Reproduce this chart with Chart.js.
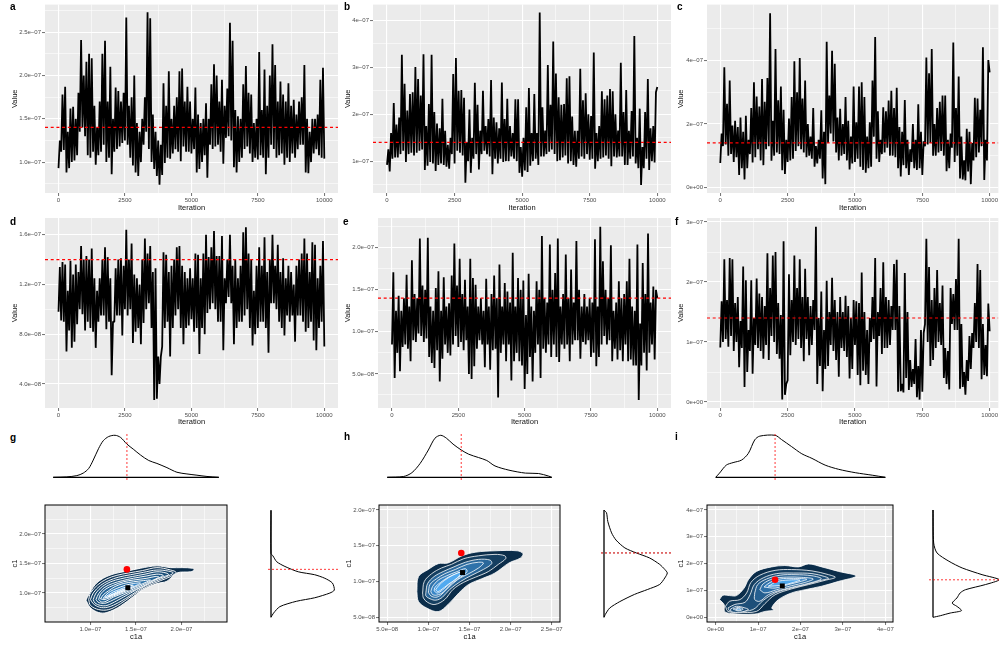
<!DOCTYPE html>
<html>
<head>
<meta charset="utf-8">
<script src="https://cdn.jsdelivr.net/npm/chart.js@4/dist/chart.umd.js"></script>
<style>
  html, body { margin: 0; padding: 0; background: #fff; overflow: hidden; }
  body { width: 999px; height: 645px; position: relative; font-family: "Liberation Sans", sans-serif; }
  canvas { position: absolute; }
  .tag { position: absolute; font-size: 10px; font-weight: bold; color: #000; line-height: 10px; }
</style>
</head>
<body>
<script>
// every value below is in units of 1e-9, the axes label them in e-07 / e-08 form
const trueValue = 140;
const traceStep = 50;

const traceA = [
  93,125, 112,178, 114,187, 88,135, 93,162, 100,164, 102,150, 108,180, 135,241, 140,200,
  130,216, 108,225, 105,220, 112,165, 97,140, 108,170, 112,225, 120,240, 100,170, 105,210,
  86,150, 112,186, 115,182, 118,170, 122,180, 125,267, 120,165, 105,175, 96,200, 88,145,
  84,135, 100,150, 120,175, 135,273, 115,266, 100,155, 92,135, 84,125, 74,120, 85,191,
  99,165, 105,205, 104,150, 110,165, 115,175, 112,205, 101,208, 118,170, 112,187, 112,170,
  110,150, 115,186, 88,155, 92,145, 100,150, 108,168, 82,150, 120,190, 115,213, 118,200,
  120,170, 112,195, 98,165, 128,185, 130,261, 125,240, 94,160, 88,153, 100,150, 105,190,
  115,211, 118,180, 110,178, 100,145, 105,150, 103,227, 108,160, 105,207, 86,165, 105,200,
  120,236, 115,212, 105,170, 108,193, 110,178, 97,170, 105,191, 100,165, 110,172, 105,155,
  115,170, 120,175, 120,212, 88,150, 87,135, 100,150, 110,150, 115,155, 108,195, 105,209, 104
];
const traceB = [
  92,125, 78,160, 105,224, 108,178, 108,193, 115,327, 122,265, 98,208, 115,243, 118,247,
  112,301, 118,275, 122,240, 125,328, 81,175, 90,222, 98,327, 95,205, 79,180, 92,170,
  95,233, 92,165, 88,135, 84,150, 115,286, 95,320, 122,250, 118,252, 112,235, 54,140,
  100,210, 75,150, 105,267, 115,220, 82,165, 115,250, 122,175, 115,190, 110,273, 72,193,
  105,183, 95,170, 105,268, 98,190, 100,233, 100,175, 110,160, 105,232, 100,232, 75,130,
  67,150, 80,215, 77,256, 90,160, 100,243, 105,160, 92,417, 110,215, 110,165, 115,305,
  120,220, 125,355, 115,287, 100,236, 102,220, 108,222, 112,277, 95,281, 100,195, 92,165,
  88,165, 105,297, 110,230, 105,245, 115,200, 103,196, 105,332, 84,160, 100,175, 105,249,
  108,232, 112,240, 105,254, 89,249, 110,200, 108,165, 110,310, 110,205, 92,252, 92,165,
  105,207, 110,367, 95,150, 85,212, 49,130, 85,205, 105,275, 81,170, 100,175, 97,247, 258
];
const traceC = [
  77,170, 130,379, 135,264, 100,337, 105,195, 80,210, 95,190, 39,220, 60,175, 25,226,
  60,150, 105,250, 78,332, 95,287, 120,255, 85,342, 70,270, 120,345, 130,550, 84,210,
  100,437, 110,275, 105,318, 54,245, 42,150, 80,217, 85,285, 90,398, 115,300, 130,408,
  120,280, 110,337, 95,200, 100,160, 90,250, 65,130, 75,150, 90,243, 28,175, 10,460,
  140,290, 170,431, 145,390, 110,220, 85,248, 100,200, 105,285, 85,210, 56,160, 75,318,
  80,205, 90,318, 65,332, 55,285, 46,160, 60,205, 65,337, 160,475, 90,240, 80,150,
  105,253, 110,240, 125,274, 100,305, 100,250, 95,314, 60,190, 34,175, 70,276, 60,150,
  39,120, 80,200, 60,150, 55,262, 60,175, 39,145, 130,410, 135,360, 140,437, 100,200,
  100,250, 110,270, 115,290, 100,290, 51,150, 60,170, 125,457, 80,250, 100,350, 28,160,
  25,85, 22,185, 50,175, 10,140, 85,283, 95,280, 110,245, 130,442, 23,150, 85,402, 363
];
const traceD = [
  98,134, 91,138, 90,136, 66,115, 83,139, 69,128, 74,136, 88,130, 100,151, 96,140,
  83,143, 90,140, 85,149, 82,125, 69,115, 90,125, 95,140, 95,150, 84,142, 90,125,
  47,90, 90,133, 95,140, 95,141, 79,135, 100,164, 95,140, 100,153, 73,128, 82,125,
  85,120, 72,140, 89,157, 100,145, 105,151, 85,130, 27,133, 28,62, 40,62, 70,146,
  85,144, 90,130, 62,135, 85,140, 95,150, 100,151, 85,135, 72,130, 85,125, 87,133,
  92,125, 82,145, 85,144, 64,125, 85,145, 80,160, 97,142, 100,150, 105,163, 100,143,
  90,143, 90,159, 67,125, 105,140, 110,160, 105,135, 72,140, 85,125, 90,135, 90,162,
  95,166, 100,145, 85,140, 71,115, 80,135, 85,150, 90,135, 90,158, 85,130, 65,140,
  105,160, 105,135, 100,152, 90,130, 85,141, 79,125, 95,135, 90,130, 95,120, 74,135,
  95,140, 95,145, 90,157, 82,145, 85,130, 90,154, 75,152, 67,125, 85,135, 90,155, 70
];
const traceE = [
  85,171, 45,125, 75,143, 53,125, 82,140, 85,168, 80,130, 65,185, 90,145, 88,140,
  98,211, 95,155, 88,150, 92,212, 70,130, 63,125, 57,152, 78,172, 41,125, 68,165,
  85,130, 75,134, 72,167, 85,205, 95,155, 82,187, 88,145, 78,162, 90,130, 50,187,
  44,164, 59,156, 80,130, 90,140, 85,125, 58,163, 85,130, 55,145, 78,167, 80,140,
  22,180, 75,130, 85,158, 65,148, 85,135, 42,194, 65,130, 75,164, 65,150, 60,161,
  32,120, 50,169, 70,130, 41,125, 75,160, 85,150, 45,214, 80,140, 75,135, 85,204,
  70,150, 85,170, 70,211, 64,130, 85,145, 80,192, 85,140, 65,174, 85,135, 90,208,
  90,150, 68,130, 88,145, 85,130, 90,140, 70,135, 75,210, 59,130, 70,225, 85,184,
  95,150, 85,140, 90,203, 65,125, 80,135, 67,160, 78,140, 65,145, 85,160, 65,187,
  67,130, 60,125, 60,204, 19,110, 60,182, 75,145, 54,217, 75,135, 85,154, 67,150, 140
];
const traceF = [
  91,168, 100,238, 105,170, 92,240, 110,238, 85,165, 100,175, 58,135, 90,226, 25,203,
  50,120, 85,203, 47,140, 95,206, 90,181, 85,175, 72,160, 95,248, 70,190, 110,244,
  100,250, 80,165, 72,145, 4,268, 12,30, 36,213, 78,170, 100,244, 95,190, 105,238,
  90,175, 68,222, 105,175, 78,160, 95,170, 120,292, 30,140, 60,184, 18,120, 55,202,
  60,150, 95,207, 85,170, 70,150, 42,175, 90,150, 85,177, 75,160, 39,140, 55,170,
  95,168, 45,165, 28,216, 52,150, 45,120, 30,140, 100,175, 105,240, 26,150, 110,190,
  80,233, 90,175, 90,170, 95,160, 120,230, 120,237, 17,160, 18,30, 16,215, 40,150,
  20,70, 25,55, 30,105, 8,60, 4,120, 17,115, 130,272, 100,225, 60,170, 70,190,
  90,220, 100,165, 95,194, 40,90, 30,85, 21,190, 130,180, 120,205, 120,272, 22,130,
  25,50, 12,70, 35,110, 55,115, 90,165, 100,230, 90,220, 38,130, 45,95, 43,164, 118
];

// axis ticks
const iterTicks = [0, 2500, 5000, 7500, 10000];
const iterLabels = ['0', '2500', '5000', '7500', '10000'];
const iterMinor = [1250, 3750, 6250, 8750];

const aTicks = [100, 150, 200, 250];
const aLabels = ['1.0e\u221207', '1.5e\u221207', '2.0e\u221207', '2.5e\u221207'];
const aMinor = [75, 125, 175, 225, 275];
const bTicks = [100, 200, 300, 400];
const bLabels = ['1e\u221207', '2e\u221207', '3e\u221207', '4e\u221207'];
const bMinor = [50, 150, 250, 350];
const cTicks = [0, 200, 400];
const cLabels = ['0e+00', '2e\u221207', '4e\u221207'];
const cMinor = [100, 300, 500];
const dTicks = [40, 80, 120, 160];
const dLabels = ['4.0e\u221208', '8.0e\u221208', '1.2e\u221207', '1.6e\u221207'];
const dMinor = [60, 100, 140];
const eTicks = [50, 100, 150, 200];
const eLabels = ['5.0e\u221208', '1.0e\u221207', '1.5e\u221207', '2.0e\u221207'];
const eMinor = [25, 75, 125, 175, 225];
const fTicks = [0, 100, 200, 300];
const fLabels = ['0e+00', '1e\u221207', '2e\u221207', '3e\u221207'];
const fMinor = [50, 150, 250];

const gTicks = [100, 150, 200];
const gLabels = ['1.0e\u221207', '1.5e\u221207', '2.0e\u221207'];
const gMinor = [75, 125, 175, 225];
const hTicks = [50, 100, 150, 200, 250];
const hLabels = ['5.0e\u221208', '1.0e\u221207', '1.5e\u221207', '2.0e\u221207', '2.5e\u221207'];
const hMinor = [75, 125, 175, 225];
const iTicks = [0, 100, 200, 300, 400];
const iLabels = ['0e+00', '1e\u221207', '2e\u221207', '3e\u221207', '4e\u221207'];
const iMinor = [50, 150, 250, 350];

// marginal densities, height relative to the peak
const gTopX = [59, 74, 85, 92, 98, 103, 109, 114, 120, 127, 133, 140, 147, 155, 164, 173, 184, 195, 206, 217, 228, 241];
const gTopY = [0, .01, .04, .10, .21, .41, .69, .87, .97, 1, .95, .79, .67, .53, .40, .33, .23, .12, .08, .05, .02, 0];
const gSideY = [240, 167, 163, 153, 145, 136, 131, 125, 117, 105, 100, 92, 86, 77, 66, 59];
const gSideX = [0, 0, .03, .09, .22, .43, .69, .85, .97, 1, .93, .69, .40, .14, .04, 0];

const hTopX = [50, 70, 80, 90, 100, 108, 115, 122, 130, 140, 149, 161, 171, 181, 198, 218, 234, 246, 250];
const hTopY = [0, .02, .11, .33, .65, .93, 1, .93, .79, .65, .55, .47, .40, .27, .17, .10, .09, .03, 0];
const hSideY = [200, 196, 184, 168, 158, 147, 140, 133, 124, 117, 112, 105, 96, 89, 82, 72, 63, 54, 50];
const hSideX = [0, .04, .06, .12, .19, .33, .51, .72, .88, .96, 1, .96, .88, .69, .48, .25, .09, .02, 0];

const iTopX = [0, 9, 25, 41, 61, 77, 92, 104, 140, 155, 179, 203, 227, 258, 290, 329, 369, 400];
const iTopY = [0, .10, .29, .35, .41, .57, .89, .98, 1, .90, .73, .56, .45, .29, .19, .11, .05, 0];
const iSideY = [400, 277, 240, 209, 184, 159, 140, 122, 103, 91, 72, 53, 41, 25, 16, 6, 0];
const iSideX = [0, .01, .06, .24, .44, .74, 1, .79, .49, .41, .36, .29, .36, .43, .26, .11, 0];

// joint density contours as x,y pairs, outer level first
const contoursG = [
  [95,88, 98,97, 105,114, 114,125, 127,133, 140,137, 155,142, 173,146, 188,143, 201,143, 212,142, 214,139, 210,136, 195,134, 184,120, 173,116, 158,106, 147,94, 133,78, 118,67, 109,67, 100,75],
  [98,89, 100,100, 108,114, 118,124, 129,130, 142,134, 157,138, 173,143, 188,139, 194,135, 188,128, 177,121, 162,111, 147,97, 133,82, 120,72, 109,72, 100,79],
  [100,89, 103,100, 111,113, 120,121, 131,127, 144,131, 158,135, 173,139, 186,137, 191,134, 184,128, 173,121, 160,112, 146,98, 131,84, 119,76, 110,76, 103,82],
  [103,89, 106,100, 113,111, 122,119, 133,124, 146,128, 160,132, 173,136, 183,134, 186,131, 181,128, 169,121, 158,112, 144,100, 129,87, 118,79, 111,79, 105,83],
  [106,89, 109,99, 115,109, 124,116, 135,121, 147,125, 162,129, 173,132, 180,130, 177,127, 168,120, 157,111, 142,101, 127,90, 117,83, 111,83, 108,85],
  [109,89, 111,98, 117,107, 125,113, 136,119, 147,122, 162,125, 171,128, 175,127, 166,120, 155,112, 140,102, 125,93, 117,86, 112,85],
  [111,90, 114,97, 120,104, 127,111, 136,116, 147,119, 158,121, 166,122, 162,119, 153,113, 138,103, 125,95, 116,89],
  [114,91, 117,97, 122,103, 129,108, 138,113, 147,116, 155,117, 149,112, 137,104, 125,97, 117,92],
  [116,93, 120,97, 125,102, 132,106, 140,111, 147,113, 142,108, 133,102, 124,96, 119,93],
  [119,94, 125,99, 132,104, 138,107, 133,103, 125,98]
];
const contoursH = [
  [86,86, 88,107, 100,117, 112,125, 124,126, 141,136, 157,141, 181,143, 208,143, 215,139, 212,133, 198,126, 181,112, 165,104, 149,96, 137,84, 124,68, 112,58, 98,63, 88,72],
  [93,84, 95,100, 104,111, 116,119, 128,124, 143,132, 161,136, 181,138, 193,136, 194,132, 185,124, 173,114, 157,106, 143,99, 130,89, 120,75, 108,68, 99,71, 94,77],
  [97,85, 99,97, 107,107, 118,114, 130,120, 145,127, 161,131, 175,130, 177,125, 167,117, 153,109, 139,100, 126,89, 117,78, 109,74, 102,76, 97,80],
  [100,85, 102,96, 110,104, 120,111, 133,117, 147,124, 161,127, 167,126, 161,119, 149,111, 136,103, 124,91, 115,81, 109,78, 103,80],
  [103,86, 105,93, 112,102, 122,108, 135,114, 145,118, 147,114, 139,106, 128,97, 118,85, 110,81, 105,82],
  [107,87, 108,92, 115,99, 124,106, 136,112, 143,114, 139,108, 128,99, 117,88, 111,84],
  [109,89, 113,95, 120,102, 130,109, 140,113, 135,105, 124,96, 115,88, 111,86]
];
const contoursI = [
  [9,66, 17,82, 33,81, 49,81, 67,109, 77,140, 96,171, 132,188, 163,193, 195,188, 219,199, 250,188, 290,171, 331,154, 290,134, 250,116, 211,103, 179,91, 148,66, 132,35, 138,27, 116,22, 92,12, 37,14, 21,22, 20,47],
  [23,41, 33,60, 57,66, 73,91, 83,130, 104,157, 140,175, 179,178, 227,173, 266,159, 282,149, 258,138, 219,122, 179,106, 140,84, 116,51, 96,22, 53,19, 29,22],
  [29,35, 45,48, 69,56, 81,84, 91,122, 112,147, 144,163, 183,165, 227,163, 257,152, 266,145, 246,137, 211,122, 175,108, 140,91, 112,63, 88,29, 53,22, 33,24],
  [92,91, 99,122, 120,143, 152,157, 187,159, 227,155, 249,144, 227,130, 191,116, 152,101, 124,84, 104,60, 92,66],
  [35,31, 49,41, 69,35, 77,29, 57,19, 37,21],
  [104,103, 112,125, 136,144, 167,150, 203,149, 230,143, 211,130, 179,118, 144,103, 116,91],
  [41,31, 53,37, 65,31, 53,24],
  [114,113, 128,130, 152,143, 183,145, 215,142, 199,133, 171,122, 140,109],
  [47,30, 54,34, 59,30, 53,27],
  [124,116, 144,133, 171,139, 199,139, 183,130, 155,119]
];
const fillsG = ['#0b2d4a', '#12395c', '#164469', '#1b4f79', '#205a88', '#256597', '#2a70a6', '#3585c6', '#429ae0', '#56b1f7'];
const fillsH = ['#0b2d4a', '#153f61', '#2a679a', '#2f72aa', '#3a86c6', '#4497dc', '#52aaf0'];
const fillsI = ['#0b2d4a', '#153f61', '#1d4f79', '#255f90', '#1d4f79', '#2d70a8', '#2d70a8', '#3a86c6', '#429ae0', '#4fa6ea'];

// posterior mean (black square) for each joint panel
const meanG = [141, 109];
const meanH = [141.5, 112.6];
const meanI = [157, 117];

function toXY(xs, ys) {
  return xs.map((x, i) => ({ x: x, y: ys[i] }));
}

function ring(flat) {
  const pts = [];
  for (let i = 0; i < flat.length; i += 2) pts.push({ x: flat[i], y: flat[i + 1] });
  pts.push(pts[0]);
  return pts;
}

function putCanvas(left, top, right, bottom) {
  const c = document.createElement('canvas');
  c.width = right - left;
  c.height = bottom - top;
  c.style.left = left + 'px';
  c.style.top = top + 'px';
  document.body.appendChild(c);
  return c;
}

function ggAxis(title, major, labels, minor, min, max, fitFn) {
  return {
    type: 'linear',
    min: min,
    max: max,
    afterBuildTicks: s => {
      s.ticks = major.concat(minor).sort((p, q) => p - q).map(v => ({ value: v }));
    },
    afterFit: fitFn,
    border: { display: false },
    grid: {
      color: '#fff',
      lineWidth: ctx => (ctx.tick && ctx.tick.label !== '' ? 1.1 : 0.55),
      tickColor: ctx => (ctx.tick && ctx.tick.label !== '' ? '#333' : 'rgba(0,0,0,0)'),
      tickLength: 3,
      tickWidth: 0.7
    },
    ticks: {
      autoSkip: false,
      maxRotation: 0,
      minRotation: 0,
      padding: 1,
      color: '#4d4d4d',
      font: { family: 'Liberation Sans', size: 6 },
      callback: v => {
        const k = major.indexOf(v);
        return k >= 0 ? labels[k] : '';
      }
    },
    title: {
      display: true,
      text: title,
      color: '#111',
      padding: 0,
      font: { family: 'Liberation Sans', size: 7.5 }
    }
  };
}

const basePlugins = { legend: { display: false }, tooltip: { enabled: false } };

function panelPlugin(withBorder) {
  return {
    id: 'panel',
    beforeDraw(chart) {
      const a = chart.chartArea;
      chart.ctx.fillStyle = '#ebebeb';
      chart.ctx.fillRect(a.left, a.top, a.width, a.height);
    },
    afterDraw(chart) {
      if (!withBorder) return;
      const a = chart.chartArea;
      chart.ctx.strokeStyle = '#000';
      chart.ctx.lineWidth = 1;
      chart.ctx.strokeRect(a.left, a.top, a.width, a.height);
    }
  };
}

function panelChart(box, panel, xAxis, yAxis, datasets, withBorder) {
  const [left, top, right, bottom] = box;
  const [pl, pt, pr, pb] = panel;
  xAxis.afterFit = s => { s.height = bottom - pb; };
  yAxis.afterFit = s => { s.width = pl - left; };
  return new Chart(putCanvas(left, top, right, bottom), {
    type: 'line',
    data: { datasets: datasets },
    options: {
      responsive: false,
      animation: false,
      events: [],
      layout: { padding: { top: pt - top, right: right - pr, left: 0, bottom: 0 } },
      scales: { x: xAxis, y: yAxis },
      plugins: basePlugins
    },
    plugins: [panelPlugin(withBorder)]
  });
}

function tracePanel(box, panel, values, xRange, yRange, yTicks, yLabels, yMinor) {
  const pts = values.map((v, i) => ({ x: i * traceStep, y: v }));
  panelChart(box, panel,
    ggAxis('Iteration', iterTicks, iterLabels, iterMinor, xRange[0], xRange[1]),
    ggAxis('Value', yTicks, yLabels, yMinor, yRange[0], yRange[1]),
    [
      { data: [{ x: xRange[0], y: trueValue }, { x: xRange[1], y: trueValue }], borderColor: '#ff0000', borderWidth: 1.2, borderDash: [3, 2.7], pointRadius: 0 },
      { data: pts, borderColor: '#000', borderWidth: 1.8, borderJoinStyle: 'bevel', pointRadius: 0, tension: 0 }
    ], false);
}

function jointPanel(box, panel, contours, fills, mean, lineW, xRange, yRange, ticks, labels, xMinor, yTicks, yLabels, yMinor) {
  const polys = contours.map((c, i) => ({
    data: ring(c),
    borderColor: '#fff',
    borderWidth: lineW,
    backgroundColor: fills[i],
    fill: 'shape',
    tension: 0.35,
    pointRadius: 0
  })).reverse();
  panelChart(box, panel,
    ggAxis('c1a', ticks, labels, xMinor, xRange[0], xRange[1]),
    ggAxis('c1', yTicks, yLabels, yMinor, yRange[0], yRange[1]),
    [
      { data: [{ x: trueValue, y: trueValue }], showLine: false, pointRadius: 3.3, pointStyle: 'circle', backgroundColor: '#ff0000', borderWidth: 0 },
      { data: [{ x: mean[0], y: mean[1] }], showLine: false, pointRadius: 3.5, pointStyle: 'rect', backgroundColor: '#000', borderWidth: 0 }
    ].concat(polys), true);
}

function hiddenScale(min, max) {
  return { type: 'linear', display: false, min: min, max: max };
}

function marginChart(box, xRange, yRange, datasets) {
  const [left, top, right, bottom] = box;
  new Chart(putCanvas(left, top, right, bottom), {
    type: 'line',
    data: { datasets: datasets },
    options: {
      responsive: false,
      animation: false,
      events: [],
      layout: { padding: 0 },
      scales: { x: hiddenScale(xRange[0], xRange[1]), y: hiddenScale(yRange[0], yRange[1]) },
      plugins: basePlugins
    }
  });
}

function topDensity(left, right, xRange, xs, ys) {
  marginChart([left, 431, right, 481], xRange, [-0.088, 1.102], [
    { data: [{ x: trueValue, y: -0.064 }, { x: trueValue, y: 1.055 }], borderColor: 'rgba(255,0,0,0.65)', borderWidth: 1.2, borderDash: [2, 2], pointRadius: 0 },
    { data: toXY(xs, ys), borderColor: '#000', borderWidth: 1, pointRadius: 0, tension: 0.3 },
    { data: [{ x: xs[0], y: 0 }, { x: xs[xs.length - 1], y: 0 }], borderColor: '#000', borderWidth: 1.3, pointRadius: 0 }
  ]);
}

function sideDensity(axisX, unit, dashFrom, dashTo, yRange, xs, ys, dashColor) {
  const left = axisX - 6;
  const right = Math.min(999, axisX + 72);
  marginChart([left, 505, right, 622], [-6 / unit, (right - axisX) / unit], yRange, [
    { data: [{ x: (dashFrom - axisX) / unit, y: trueValue }, { x: (dashTo - axisX) / unit, y: trueValue }], borderColor: dashColor, borderWidth: 1.2, borderDash: [2, 2], pointRadius: 0 },
    { data: toXY(xs, ys), borderColor: '#000', borderWidth: 1, pointRadius: 0, tension: 0.25 },
    { data: [{ x: 0, y: ys[0] }, { x: 0, y: ys[ys.length - 1] }], borderColor: '#000', borderWidth: 1.3, pointRadius: 0 }
  ]);
}

// first two rows, the traces
tracePanel([10, 0, 342, 212], [45, 4, 338, 193], traceA, [-508, 10515], [64.3, 281.9], aTicks, aLabels, aMinor);
tracePanel([343, 0, 675, 212], [373, 4, 671, 193], traceB, [-518, 10507], [32, 434], bTicks, bLabels, bMinor);
tracePanel([676, 0, 999, 212], [707, 4, 999, 193], traceC, [-493, 10322], [-18, 577], cTicks, cLabels, cMinor);
tracePanel([10, 213, 342, 426], [45, 218, 338, 408], traceD, [-508, 10515], [20.6, 173.5], dTicks, dLabels, dMinor);
tracePanel([343, 213, 675, 426], [378, 218, 671, 408], traceE, [-528, 10516], [9.4, 235.4], eTicks, eLabels, eMinor);
tracePanel([676, 213, 999, 426], [707, 218, 999, 408], traceF, [-493, 10322], [-10, 306.7], fTicks, fLabels, fMinor);

// bottom row, joint density with its two margins
jointPanel([10, 500, 240, 641], [45, 505, 227, 622], contoursG, fillsG, meanG, 0.95, [50, 250], [51, 249], gTicks, gLabels, gMinor, gTicks, gLabels, gMinor);
jointPanel([344, 500, 574, 641], [379, 505, 560, 622], contoursH, fillsH, meanH, 0.8, [40, 260], [43.5, 207], hTicks, hLabels, hMinor, hTicks.slice(0, 4), hLabels.slice(0, 4), hMinor.slice(0, 3));
jointPanel([676, 500, 906, 641], [707, 505, 893, 622], contoursI, fillsI, meanI, 0.8, [-20.5, 418], [-17.4, 418.6], iTicks, iLabels, iMinor, iTicks, iLabels, iMinor);

topDensity(45, 227, [50, 250], gTopX, gTopY);
topDensity(379, 560, [40, 260], hTopX, hTopY);
topDensity(707, 893, [-20.5, 418], iTopX, iTopY);

sideDensity(271, 63.3, 268, 338, [51, 249], gSideX, gSideY, 'rgba(255,0,0,0.65)');
sideDensity(604, 63.3, 601, 671, [43.5, 207], hSideX, hSideY, 'rgba(200,0,0,0.9)');
sideDensity(933, 66.3, 929, 999, [-17.4, 418.6], iSideX, iSideY, 'rgba(255,0,0,0.65)');

// panel letters
const tagLetters = ['a', 'b', 'c', 'd', 'e', 'f', 'g', 'h', 'i'];
const tagLeft = [10, 344, 677, 10, 343, 675, 10, 344, 675];
const tagTop = [2, 2, 2, 217, 217, 217, 433, 432, 432];
tagLetters.forEach((t, i) => {
  const el = document.createElement('div');
  el.className = 'tag';
  el.textContent = t;
  el.style.left = tagLeft[i] + 'px';
  el.style.top = tagTop[i] + 'px';
  document.body.appendChild(el);
});
</script>
</body>
</html>
